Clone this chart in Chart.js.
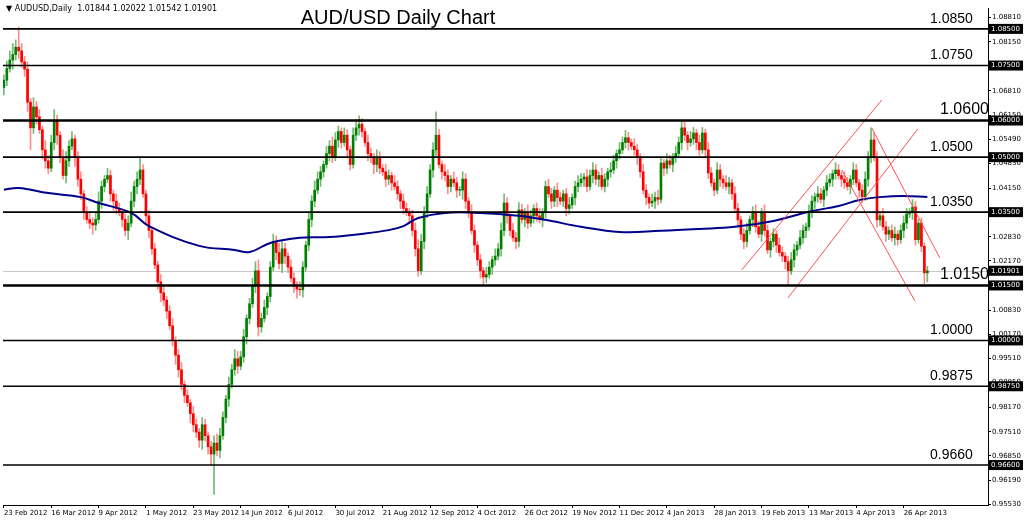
<!DOCTYPE html>
<html>
<head>
<meta charset="utf-8">
<script src="https://cdn.jsdelivr.net/npm/chart.js@4"></script>
<style>
  body { margin: 0; background: #fff; }
  canvas { display: block; }
</style>
</head>
<body>
<canvas id="chart" width="1024" height="522"></canvas>
<script>
// daily closes AUD/USD, 23 Feb 2012 .. 8 May 2013
const closes = [
  1.0710,1.0742,1.0765,1.0780,1.0800,1.0790,1.0760,1.0740,1.0650,1.0580,
  1.0637,1.0610,1.0575,1.0520,1.0490,1.0470,1.0540,1.0600,1.0560,1.0500,
  1.0450,1.0490,1.0530,1.0550,1.0500,1.0440,1.0400,1.0350,1.0330,1.0320,
  1.0315,1.0330,1.0380,1.0420,1.0440,1.0450,1.0400,1.0380,1.0360,1.0350,
  1.0330,1.0300,1.0320,1.0380,1.0420,1.0440,1.0465,1.0400,1.0340,1.0300,
  1.0250,1.0206,1.0160,1.0130,1.0110,1.0080,1.0040,1.0000,0.9960,0.9920,
  0.9880,0.9850,0.9830,0.9800,0.9770,0.9750,0.9728,0.9770,0.9740,0.9710,
  0.9690,0.9720,0.9700,0.9740,0.9790,0.9840,0.9880,0.9920,0.9950,0.9930,
  0.9955,1.0010,1.0060,1.0100,1.0150,1.0190,1.0037,1.0060,1.0090,1.0120,
  1.0200,1.0270,1.0240,1.0210,1.0250,1.0230,1.0200,1.0170,1.0150,1.0140,
  1.0138,1.0200,1.0260,1.0330,1.0380,1.0410,1.0440,1.0460,1.0480,1.0510,
  1.0530,1.0500,1.0547,1.0570,1.0540,1.0560,1.0520,1.0480,1.0560,1.0580,
  1.0590,1.0570,1.0540,1.0510,1.0500,1.0480,1.0500,1.0470,1.0460,1.0440,
  1.0450,1.0430,1.0420,1.0400,1.0380,1.0360,1.0350,1.0340,1.0300,1.0250,
  1.0190,1.0270,1.0350,1.0400,1.0465,1.0520,1.0560,1.0480,1.0460,1.0450,
  1.0420,1.0440,1.0430,1.0410,1.0410,1.0440,1.0380,1.0350,1.0300,1.0260,
  1.0220,1.0190,1.0173,1.0180,1.0200,1.0220,1.0230,1.0250,1.0300,1.0375,
  1.0340,1.0300,1.0280,1.0270,1.0356,1.0330,1.0350,1.0320,1.0340,1.0360,
  1.0340,1.0330,1.0350,1.0420,1.0400,1.0380,1.0410,1.0390,1.0380,1.0400,
  1.0360,1.0370,1.0390,1.0420,1.0430,1.0440,1.0446,1.0420,1.0450,1.0465,
  1.0440,1.0450,1.0420,1.0440,1.0460,1.0465,1.0490,1.0510,1.0520,1.0540,
  1.0553,1.0540,1.0530,1.0520,1.0500,1.0460,1.0410,1.0390,1.0375,1.0380,
  1.0390,1.0385,1.0484,1.0470,1.0490,1.0480,1.0500,1.0510,1.0540,1.0580,
  1.0560,1.0540,1.0550,1.0566,1.0540,1.0520,1.0566,1.0520,1.0457,1.0430,
  1.0410,1.0465,1.0440,1.0430,1.0420,1.0430,1.0400,1.0360,1.0329,1.0290,
  1.0270,1.0300,1.0330,1.0350,1.0310,1.0290,1.0350,1.0300,1.0247,1.0270,
  1.0290,1.0260,1.0240,1.0230,1.0215,1.0190,1.0220,1.0247,1.0260,1.0280,
  1.0300,1.0310,1.0350,1.0380,1.0392,1.0400,1.0385,1.0410,1.0430,1.0440,
  1.0455,1.0465,1.0450,1.0440,1.0430,1.0420,1.0440,1.0465,1.0430,1.0410,
  1.0392,1.0440,1.0500,1.0547,1.0500,1.0329,1.0340,1.0310,1.0290,1.0300,
  1.0280,1.0290,1.0275,1.0300,1.0320,1.0345,1.0350,1.0364,1.0275,1.0320,
  1.0257,1.01844,1.01901
];
const firstOpen = 1.0690;
// wick length above / below the body, in pips
const hiPips = [
  15,20,25,30,20,55,20,15,20,10, 25,15,20,10,25,15,20,30,15,10,
  20,25,15,20,10,15,20,10,15,20, 15,20,25,15,10,20,15,10,20,15,
  10,15,20,25,15,20,35,15,10,15, 10,15,10,20,15,10,15,20,10,15,
  20,10,15,10,20,15,10,20,15,10, 15,20,25,20,15,10,20,15,25,20,
  15,20,10,15,20,25,30,15,20,10, 15,20,15,25,20,15,10,20,15,10,
  20,15,10,20,15,25,20,15,10,20, 15,25,20,15,10,20,15,10,20,23,
  23,15,10,20,15,10,20,15,10,20, 15,10,20,15,10,20,15,10,15,20,
  25,20,15,20,15,20,64,15,10,20, 15,10,20,15,10,20,15,10,20,15,
  10,15,10,20,15,10,20,15,20,25, 15,10,20,15,20,15,10,20,15,10,
  15,20,10,15,20,15,10,20,15,10, 15,20,10,15,20,15,10,20,15,20,
  15,10,20,15,10,20,15,10,20,15, 20,15,10,20,15,10,20,15,10,20,
  15,20,15,10,20,15,10,20,15,20, 15,10,20,15,10,20,15,10,20,15,
  10,20,15,10,20,15,10,20,15,10, 15,20,10,15,20,15,10,20,15,10,
  15,10,20,15,10,15,20,15,10,20, 15,10,20,15,10,20,15,10,20,15,
  10,20,15,10,20,15,10,20,15,10, 15,20,15,33,20,15,10,20,15,10,
  15,20,10,15,20,15,10,20,15,10, 15,10,12
];
const loPips = [
  20,15,10,25,15,20,15,20,25,60, 15,20,10,25,20,15,10,20,25,15,
  10,20,15,10,25,20,15,20,10,15, 25,15,10,20,15,10,20,25,15,10,
  20,15,25,10,15,20,15,10,25,20, 15,10,20,25,15,20,10,15,25,20,
  15,20,10,25,20,15,20,25,15,20, 30,110,15,20,10,15,20,10,15,20,
  10,15,20,15,10,20,25,15,10,20, 15,10,20,15,25,20,15,10,20,25,
  15,20,10,15,20,15,10,20,15,10, 20,15,10,20,15,10,20,15,10,15,
  20,15,10,20,15,25,20,15,10,20, 15,20,10,15,20,15,10,20,15,20,
  15,10,20,15,10,20,15,10,20,15, 20,15,10,20,15,25,20,15,10,20,
  15,20,22,15,10,20,15,10,20,15, 20,15,10,20,15,10,20,15,10,20,
  15,10,20,15,10,20,15,25,10,15, 20,15,10,20,15,10,20,15,10,20,
  15,20,10,15,20,15,10,20,15,10, 15,20,10,15,20,15,10,20,15,10,
  20,15,10,20,15,10,20,15,10,20, 15,20,10,15,20,15,10,20,15,10,
  15,10,20,15,10,20,15,10,20,15, 20,15,10,20,15,10,20,15,10,20,
  15,20,10,15,20,40,10,20,15,10, 15,20,10,15,20,15,10,20,15,10,
  20,15,10,20,15,10,20,15,10,20, 15,10,20,15,10,20,15,10,20,15,
  10,20,15,10,20,15,10,20,15,10, 15,30,25
];

// 100-day moving average, read at key points (bar index, price)
const maIndex = [0,5,15,26,32,43,49,66,78,83,90,100,110,120,130,135,140,149,161,174,183,195,208,222,235,247,260,272,282,289,296,304,312];
const maValue = [1.0411,1.0416,1.0402,1.0391,1.0375,1.0348,1.0312,1.0258,1.0247,1.0241,1.0266,1.0280,1.0282,1.0290,1.0301,1.0312,1.0334,1.0348,1.0348,1.0340,1.0329,1.0310,1.0296,1.0299,1.0304,1.0310,1.0326,1.0351,1.0367,1.0383,1.0391,1.0394,1.0391];

const dateLabels = ['23 Feb 2012','16 Mar 2012','9 Apr 2012','1 May 2012','23 May 2012','14 Jun 2012','6 Jul 2012','30 Jul 2012','21 Aug 2012','12 Sep 2012','4 Oct 2012','26 Oct 2012','19 Nov 2012','11 Dec 2012','4 Jan 2013','28 Jan 2013','19 Feb 2013','13 Mar 2013','4 Apr 2013','26 Apr 2013'];
const barsPerLabel = 16;

const priceTicks = [1.0881,1.0815,1.0681,1.0615,1.0549,1.0483,1.0415,1.0283,1.0217,1.0083,1.0017,0.9951,0.9885,0.9817,0.9751,0.9685,0.9619,0.9553];
const levels = [1.0850,1.0750,1.0600,1.0500,1.0350,1.0150,1.0000,0.9875,0.9660];
const levelNames = ['1.0850','1.0750','1.0600','1.0500','1.0350','1.0150','1.0000','0.9875','0.9660'];
const boldLevels = [1.0600,1.0150];
const lastPrice = 1.01901;

// red channel lines [i1, p1, i2, p2]
const channels = [
  [249.3,1.0192,296.6,1.0656],
  [264.9,1.0116,308.8,1.0577],
  [283.1,1.0465,307.8,1.0108],
  [293.2,1.0580,316.2,1.0225]
];

const bodies = [], wicks = [], bodyColors = [], wickColors = [];
closes.forEach((c, i) => {
  const o = i === 0 ? firstOpen : closes[i - 1];
  const up = c >= o;
  const top = Math.max(o, c), bot = Math.min(o, c);
  bodies.push({x: i, y: [o, up ? Math.max(c, o + 0.0002) : Math.min(c, o - 0.0002)]});
  wicks.push({x: i, y: [bot - loPips[i] / 10000, top + hiPips[i] / 10000]});
  bodyColors.push(up ? '#008000' : '#ff0000');
  wickColors.push(up ? '#74b874' : '#ff8c8c');
});

const maData = maIndex.map((x, k) => ({x, y: maValue[k]}));
const channelSets = channels.map(c => ({
  type: 'line',
  data: [{x: c[0], y: c[1]}, {x: c[2], y: c[3]}],
  borderColor: '#ff5050', borderWidth: 1, pointRadius: 0, order: 0
}));

const overlay = {
  id: 'overlay',
  beforeDatasetsDraw(chart) {
    const {ctx, chartArea: a, scales: {y}} = chart;
    ctx.save();
    // last price line
    ctx.strokeStyle = '#c8c8c8'; ctx.lineWidth = 1;
    const yl = Math.round(y.getPixelForValue(lastPrice)) + 0.5;
    ctx.beginPath(); ctx.moveTo(a.left, yl); ctx.lineTo(a.right, yl); ctx.stroke();
    ctx.restore();
  },
  afterDatasetsDraw(chart) {
    const {ctx, chartArea: a, scales: {y}} = chart;
    ctx.save();
    levels.forEach((v, k) => {
      const py = y.getPixelForValue(v);
      const bold = boldLevels.includes(v);
      ctx.strokeStyle = '#000'; ctx.lineWidth = bold ? 2.5 : 1.6;
      ctx.beginPath(); ctx.moveTo(a.left, py); ctx.lineTo(a.right, py); ctx.stroke();
      ctx.fillStyle = '#000';
      ctx.font = (bold ? '16px' : '14px') + ' "Liberation Sans", Arial, sans-serif';
      ctx.textAlign = 'left'; ctx.textBaseline = 'bottom';
      ctx.fillText(levelNames[k], bold ? 940 : 930, py - 3);
    });
    // boxed price labels on the axis
    ctx.font = '7px "DejaVu Sans", sans-serif';
    ctx.textBaseline = 'middle';
    levels.concat([lastPrice]).forEach(v => {
      const py = y.getPixelForValue(v);
      ctx.fillStyle = '#000';
      ctx.fillRect(a.right + 1, py - 5, 34, 10);
      ctx.fillStyle = '#fff';
      ctx.fillText(v.toFixed(5), a.right + 3, py);
    });
    // header
    ctx.fillStyle = '#000';
    ctx.font = '8px "DejaVu Sans", sans-serif';
    ctx.fillText('\u25BC AUDUSD,Daily  1.01844 1.02022 1.01542 1.01901', 6, 9);
    ctx.font = '20px "Liberation Sans", Arial, sans-serif';
    ctx.textAlign = 'center'; ctx.textBaseline = 'top';
    ctx.fillText('AUD/USD Daily Chart', 398, 8);
    ctx.restore();
  }
};

new Chart(document.getElementById('chart'), {
  data: {
    datasets: [
      {type: 'bar', data: wicks, backgroundColor: wickColors, barThickness: 1, grouped: false, order: 3},
      {type: 'bar', data: bodies, backgroundColor: bodyColors, barThickness: 2, grouped: false, order: 2},
      {type: 'line', data: maData, borderColor: '#00008b', borderWidth: 2, pointRadius: 0, tension: 0.4, order: 1},
      ...channelSets
    ]
  },
  options: {
    responsive: false,
    devicePixelRatio: 1,
    animation: false,
    layout: {padding: {top: 8, left: 3, right: 0, bottom: 0}},
    plugins: {legend: {display: false}, tooltip: {enabled: false}},
    scales: {
      x: {
        type: 'linear', min: -0.3, max: 332.5, offset: false,
        grid: {display: true, drawOnChartArea: false, tickLength: 3, offset: false, color: '#000'},
        border: {color: '#000'},
        afterBuildTicks: s => { s.ticks = dateLabels.map((_, k) => ({value: k * barsPerLabel})); },
        afterFit: s => { s.height = 17; },
        ticks: {
          autoSkip: false, maxRotation: 0, align: 'start', padding: 1,
          color: '#000', font: {size: 7, family: 'DejaVu Sans'},
          callback: v => dateLabels[v / barsPerLabel]
        }
      },
      y: {
        position: 'right', min: 0.9551, max: 1.0907,
        grid: {display: true, drawOnChartArea: false, tickLength: 3, color: '#000'},
        border: {color: '#000'},
        afterBuildTicks: s => { s.ticks = priceTicks.map(v => ({value: v})); },
        afterFit: s => { s.width = 36; },
        ticks: {
          autoSkip: false, padding: 1, color: '#000',
          font: {size: 7, family: 'DejaVu Sans'},
          callback: v => v.toFixed(5)
        }
      }
    }
  },
  plugins: [overlay]
});
</script>
</body>
</html>
